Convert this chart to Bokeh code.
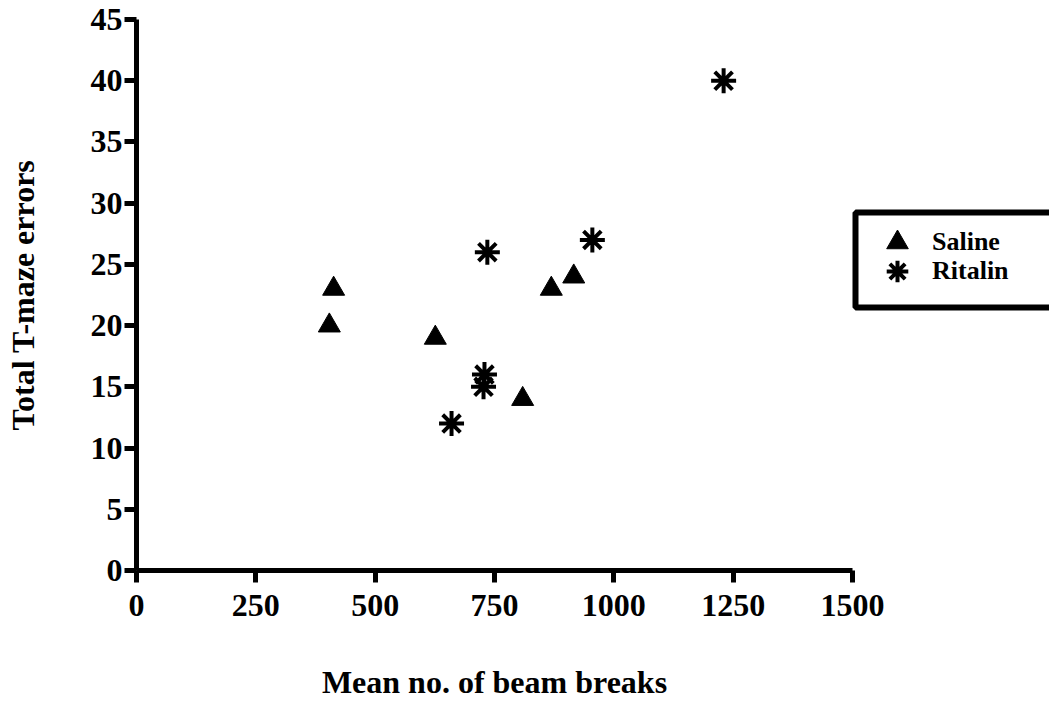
from bokeh.plotting import figure
from bokeh.models import Range1d, FixedTicker, Legend, LegendItem, BoxAnnotation, Label
from bokeh.embed import file_html
from bokeh.resources import INLINE

# Data
saline_x = [404, 413, 626, 809, 869, 916]
saline_y = [20, 23, 19, 14, 23, 24]
ritalin_x = [660, 727, 729, 735, 955, 1230]
ritalin_y = [12, 15, 16, 26, 27, 40]

x_ticks = [0, 250, 500, 750, 1000, 1250, 1500]
y_ticks = [0, 5, 10, 15, 20, 25, 30, 35, 40, 45]
x_axis_end = 1500
y_axis_end = 45
x_title = "Mean no. of beam breaks"
y_title = "Total T-maze errors"

FONT = "Liberation Serif"

W, H = 1049, 702
LEFT, TOP, BOTTOM = 136, 19, 132
X_AXIS_RIGHT_PX = 852   # pixel where x = 1500 sits in the reference
X_TITLE_PX_BELOW = 111  # x-title centre, pixels below the x axis
FRAME_BOTTOM = H - BOTTOM
# the frame extends to the page edge (room for the legend); the axis itself stops at 1500
x_view_end = x_axis_end * (W - LEFT) / (X_AXIS_RIGHT_PX - LEFT)
px_per_y = (FRAME_BOTTOM - TOP) / y_axis_end

p = figure(width=W, height=H, output_backend="svg", toolbar_location=None,
           x_range=Range1d(0, x_view_end), y_range=Range1d(0, y_axis_end))
p.min_border_left = LEFT
p.min_border_right = 0
p.min_border_top = TOP
p.min_border_bottom = BOTTOM
p.outline_line_color = None
p.xgrid.visible = False
p.ygrid.visible = False
p.background_fill_color = "white"
p.border_fill_color = "white"

r_sal = p.scatter(saline_x, saline_y, marker="triangle", size=22,
                  fill_color="black", line_color="black", line_width=1)
r_rit = p.scatter(ritalin_x, ritalin_y, marker="asterisk", size=25,
                  line_color="black", line_width=4)

for ax, ticks in ((p.xaxis[0], x_ticks), (p.yaxis[0], y_ticks)):
    ax.ticker = FixedTicker(ticks=ticks)
    ax.axis_line_width = 5
    ax.axis_line_color = "black"
    ax.major_tick_line_width = 5
    ax.major_tick_line_color = "black"
    ax.major_tick_in = 0
    ax.major_tick_out = 12
    ax.minor_tick_line_color = None
    ax.major_label_text_font = FONT
    ax.major_label_text_font_style = "bold"
    ax.major_label_text_font_size = "32px"
    ax.major_label_text_color = "black"
    ax.axis_label_text_font = FONT
    ax.axis_label_text_font_style = "bold"
    ax.axis_label_text_font_size = "32px"
    ax.axis_label_text_color = "black"

p.xaxis.bounds = (0, x_axis_end)
p.xaxis.major_label_standoff = 12
p.yaxis.major_label_standoff = 2
p.yaxis.axis_label = y_title
p.yaxis.axis_label_standoff = 47

# x-axis title, centred under the drawn axis (0..1500) rather than the whole frame
xt = Label(x=x_axis_end / 2, y=-X_TITLE_PX_BELOW / px_per_y,
           x_units="data", y_units="data", text=x_title,
           text_align="center", text_baseline="middle",
           text_font=FONT, text_font_style="bold", text_font_size="32px",
           text_color="black")
p.add_layout(xt, "below")

# legend frame (screen units: x from frame left, y up from frame bottom)
box = BoxAnnotation(left=855 - LEFT, right=1300 - LEFT,
                    top=FRAME_BOTTOM - 212, bottom=FRAME_BOTTOM - 307,
                    left_units="screen", right_units="screen",
                    top_units="screen", bottom_units="screen",
                    fill_color="white", fill_alpha=1,
                    line_color="black", line_width=6, line_alpha=1)
p.add_layout(box)

def make_legend(label, renderer, y):
    lg = Legend(items=[LegendItem(label=label, renderers=[renderer])],
                location=(734, y))
    lg.border_line_color = None
    lg.background_fill_alpha = 0
    lg.label_text_font = FONT
    lg.label_text_font_style = "bold"
    lg.label_text_font_size = "26px"
    lg.label_text_color = "black"
    lg.padding = 0
    lg.margin = 0
    lg.glyph_width = 54
    lg.glyph_height = 54
    lg.label_height = 29
    lg.label_standoff = 8
    return lg

p.add_layout(make_legend("Saline", r_sal, 301), "center")
p.add_layout(make_legend("Ritalin", r_rit, 272), "center")

open("out.html", "w").write(file_html(p, INLINE))
